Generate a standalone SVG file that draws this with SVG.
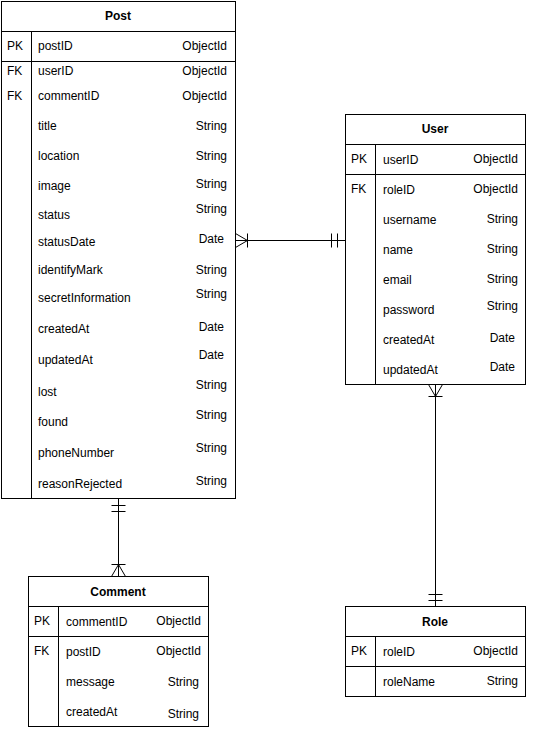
<svg xmlns="http://www.w3.org/2000/svg" width="534" height="730" viewBox="0 0 534 730">
  <style>
    .box { fill: #ffffff; stroke: #000000; stroke-width: 1; }
    .ln { stroke: #000000; stroke-width: 1; fill: none; }
    .title { font-family: "Liberation Sans", Arial, sans-serif; font-size: 12px; font-weight: bold; fill: #000; text-anchor: middle; dominant-baseline: central; }
    .t { font-family: "Liberation Sans", Arial, sans-serif; font-size: 12px; fill: #000; dominant-baseline: central; }
    .r { text-anchor: end; }
    .conn { stroke: #000000; stroke-width: 1; fill: none; }
  </style>

  <g id="post">
    <rect class="box" x="1.5" y="1.5" width="234" height="497"/>
    <line class="ln" x1="1.5" y1="31.5" x2="235.5" y2="31.5"/>
    <line class="ln" x1="1.5" y1="61.5" x2="235.5" y2="61.5"/>
    <line class="ln" x1="31.5" y1="31.5" x2="31.5" y2="498.5"/>
    <text class="title" x="118" y="16">Post</text>
    <text class="t" x="7" y="46">PK</text>
    <text class="t" x="38" y="46">postID</text>
    <text class="t r" x="227" y="46">ObjectId</text>
    <text class="t" x="7" y="71">FK</text>
    <text class="t" x="38" y="71">userID</text>
    <text class="t r" x="227" y="71">ObjectId</text>
    <text class="t" x="7" y="96">FK</text>
    <text class="t" x="38" y="96">commentID</text>
    <text class="t r" x="227" y="96">ObjectId</text>
    <text class="t" x="38" y="126">title</text>
    <text class="t r" x="227" y="126">String</text>
    <text class="t" x="38" y="156">location</text>
    <text class="t r" x="227" y="156">String</text>
    <text class="t" x="38" y="186">image</text>
    <text class="t r" x="227" y="184">String</text>
    <text class="t" x="38" y="215">status</text>
    <text class="t r" x="227" y="209">String</text>
    <text class="t" x="38" y="242">statusDate</text>
    <text class="t r" x="224" y="239">Date</text>
    <text class="t" x="38" y="270">identifyMark</text>
    <text class="t r" x="227" y="270">String</text>
    <text class="t" x="38" y="298">secretInformation</text>
    <text class="t r" x="227" y="294">String</text>
    <text class="t" x="38" y="329">createdAt</text>
    <text class="t r" x="224" y="327">Date</text>
    <text class="t" x="38" y="360">updatedAt</text>
    <text class="t r" x="224" y="355">Date</text>
    <text class="t" x="38" y="392">lost</text>
    <text class="t r" x="227" y="385">String</text>
    <text class="t" x="38" y="422">found</text>
    <text class="t r" x="227" y="415">String</text>
    <text class="t" x="38" y="453">phoneNumber</text>
    <text class="t r" x="227" y="448">String</text>
    <text class="t" x="38" y="484">reasonRejected</text>
    <text class="t r" x="227" y="481">String</text>
  </g>

  <g id="user">
    <rect class="box" x="345.5" y="114.5" width="180" height="270"/>
    <line class="ln" x1="345.5" y1="144.5" x2="525.5" y2="144.5"/>
    <line class="ln" x1="345.5" y1="174.5" x2="525.5" y2="174.5"/>
    <line class="ln" x1="375.5" y1="144.5" x2="375.5" y2="384.5"/>
    <text class="title" x="435" y="129">User</text>
    <text class="t" x="351" y="159">PK</text>
    <text class="t" x="383" y="160">userID</text>
    <text class="t r" x="518" y="159">ObjectId</text>
    <text class="t" x="351" y="189">FK</text>
    <text class="t" x="383" y="190">roleID</text>
    <text class="t r" x="518" y="189">ObjectId</text>
    <text class="t" x="383" y="220">username</text>
    <text class="t r" x="518" y="219">String</text>
    <text class="t" x="383" y="250">name</text>
    <text class="t r" x="518" y="249">String</text>
    <text class="t" x="383" y="280">email</text>
    <text class="t r" x="518" y="279">String</text>
    <text class="t" x="383" y="310">password</text>
    <text class="t r" x="518" y="306">String</text>
    <text class="t" x="383" y="340">createdAt</text>
    <text class="t r" x="515" y="338">Date</text>
    <text class="t" x="383" y="370">updatedAt</text>
    <text class="t r" x="515" y="367">Date</text>
  </g>

  <g id="comment">
    <rect class="box" x="28.5" y="576.5" width="180" height="150"/>
    <line class="ln" x1="28.5" y1="606.5" x2="208.5" y2="606.5"/>
    <line class="ln" x1="28.5" y1="636.5" x2="208.5" y2="636.5"/>
    <line class="ln" x1="58.5" y1="606.5" x2="58.5" y2="726.5"/>
    <text class="title" x="118" y="592">Comment</text>
    <text class="t" x="34" y="621">PK</text>
    <text class="t" x="66" y="622">commentID</text>
    <text class="t r" x="201" y="621">ObjectId</text>
    <text class="t" x="34" y="651">FK</text>
    <text class="t" x="66" y="652">postID</text>
    <text class="t r" x="201" y="651">ObjectId</text>
    <text class="t" x="66" y="682">message</text>
    <text class="t r" x="199" y="682">String</text>
    <text class="t" x="66" y="712">createdAt</text>
    <text class="t r" x="199" y="714">String</text>
  </g>

  <g id="role">
    <rect class="box" x="345.5" y="606.5" width="180" height="90"/>
    <line class="ln" x1="345.5" y1="636.5" x2="525.5" y2="636.5"/>
    <line class="ln" x1="345.5" y1="666.5" x2="525.5" y2="666.5"/>
    <line class="ln" x1="375.5" y1="636.5" x2="375.5" y2="696.5"/>
    <text class="title" x="435" y="622">Role</text>
    <text class="t" x="351" y="651">PK</text>
    <text class="t" x="383" y="652">roleID</text>
    <text class="t r" x="518" y="651">ObjectId</text>
    <text class="t" x="383" y="682">roleName</text>
    <text class="t r" x="518" y="681">String</text>
  </g>

  <g id="connectors">
    <!-- Post (many) to User (one) -->
    <line class="conn" x1="235.5" y1="240.5" x2="345.5" y2="240.5"/>
    <path class="conn" d="M235.5 233.5 L247.5 240.5 L235.5 247.5"/>
    <line class="conn" x1="247.5" y1="233.5" x2="247.5" y2="247.5"/>
    <line class="conn" x1="331.5" y1="233.5" x2="331.5" y2="247.5"/>
    <line class="conn" x1="337.5" y1="233.5" x2="337.5" y2="247.5"/>

    <!-- Post (one) to Comment (many) -->
    <line class="conn" x1="118.5" y1="498.5" x2="118.5" y2="576.5"/>
    <line class="conn" x1="111.5" y1="505.5" x2="125.5" y2="505.5"/>
    <line class="conn" x1="111.5" y1="511.5" x2="125.5" y2="511.5"/>
    <line class="conn" x1="111.5" y1="564.5" x2="125.5" y2="564.5"/>
    <path class="conn" d="M111.5 576.5 L118.5 564.5 L125.5 576.5"/>

    <!-- User (many) to Role (one) -->
    <line class="conn" x1="435.5" y1="384.5" x2="435.5" y2="606.5"/>
    <path class="conn" d="M428.5 384.5 L435.5 396.5 L442.5 384.5"/>
    <line class="conn" x1="428.5" y1="396.5" x2="442.5" y2="396.5"/>
    <line class="conn" x1="428.5" y1="594.5" x2="442.5" y2="594.5"/>
    <line class="conn" x1="428.5" y1="600.5" x2="442.5" y2="600.5"/>
  </g>
</svg>
